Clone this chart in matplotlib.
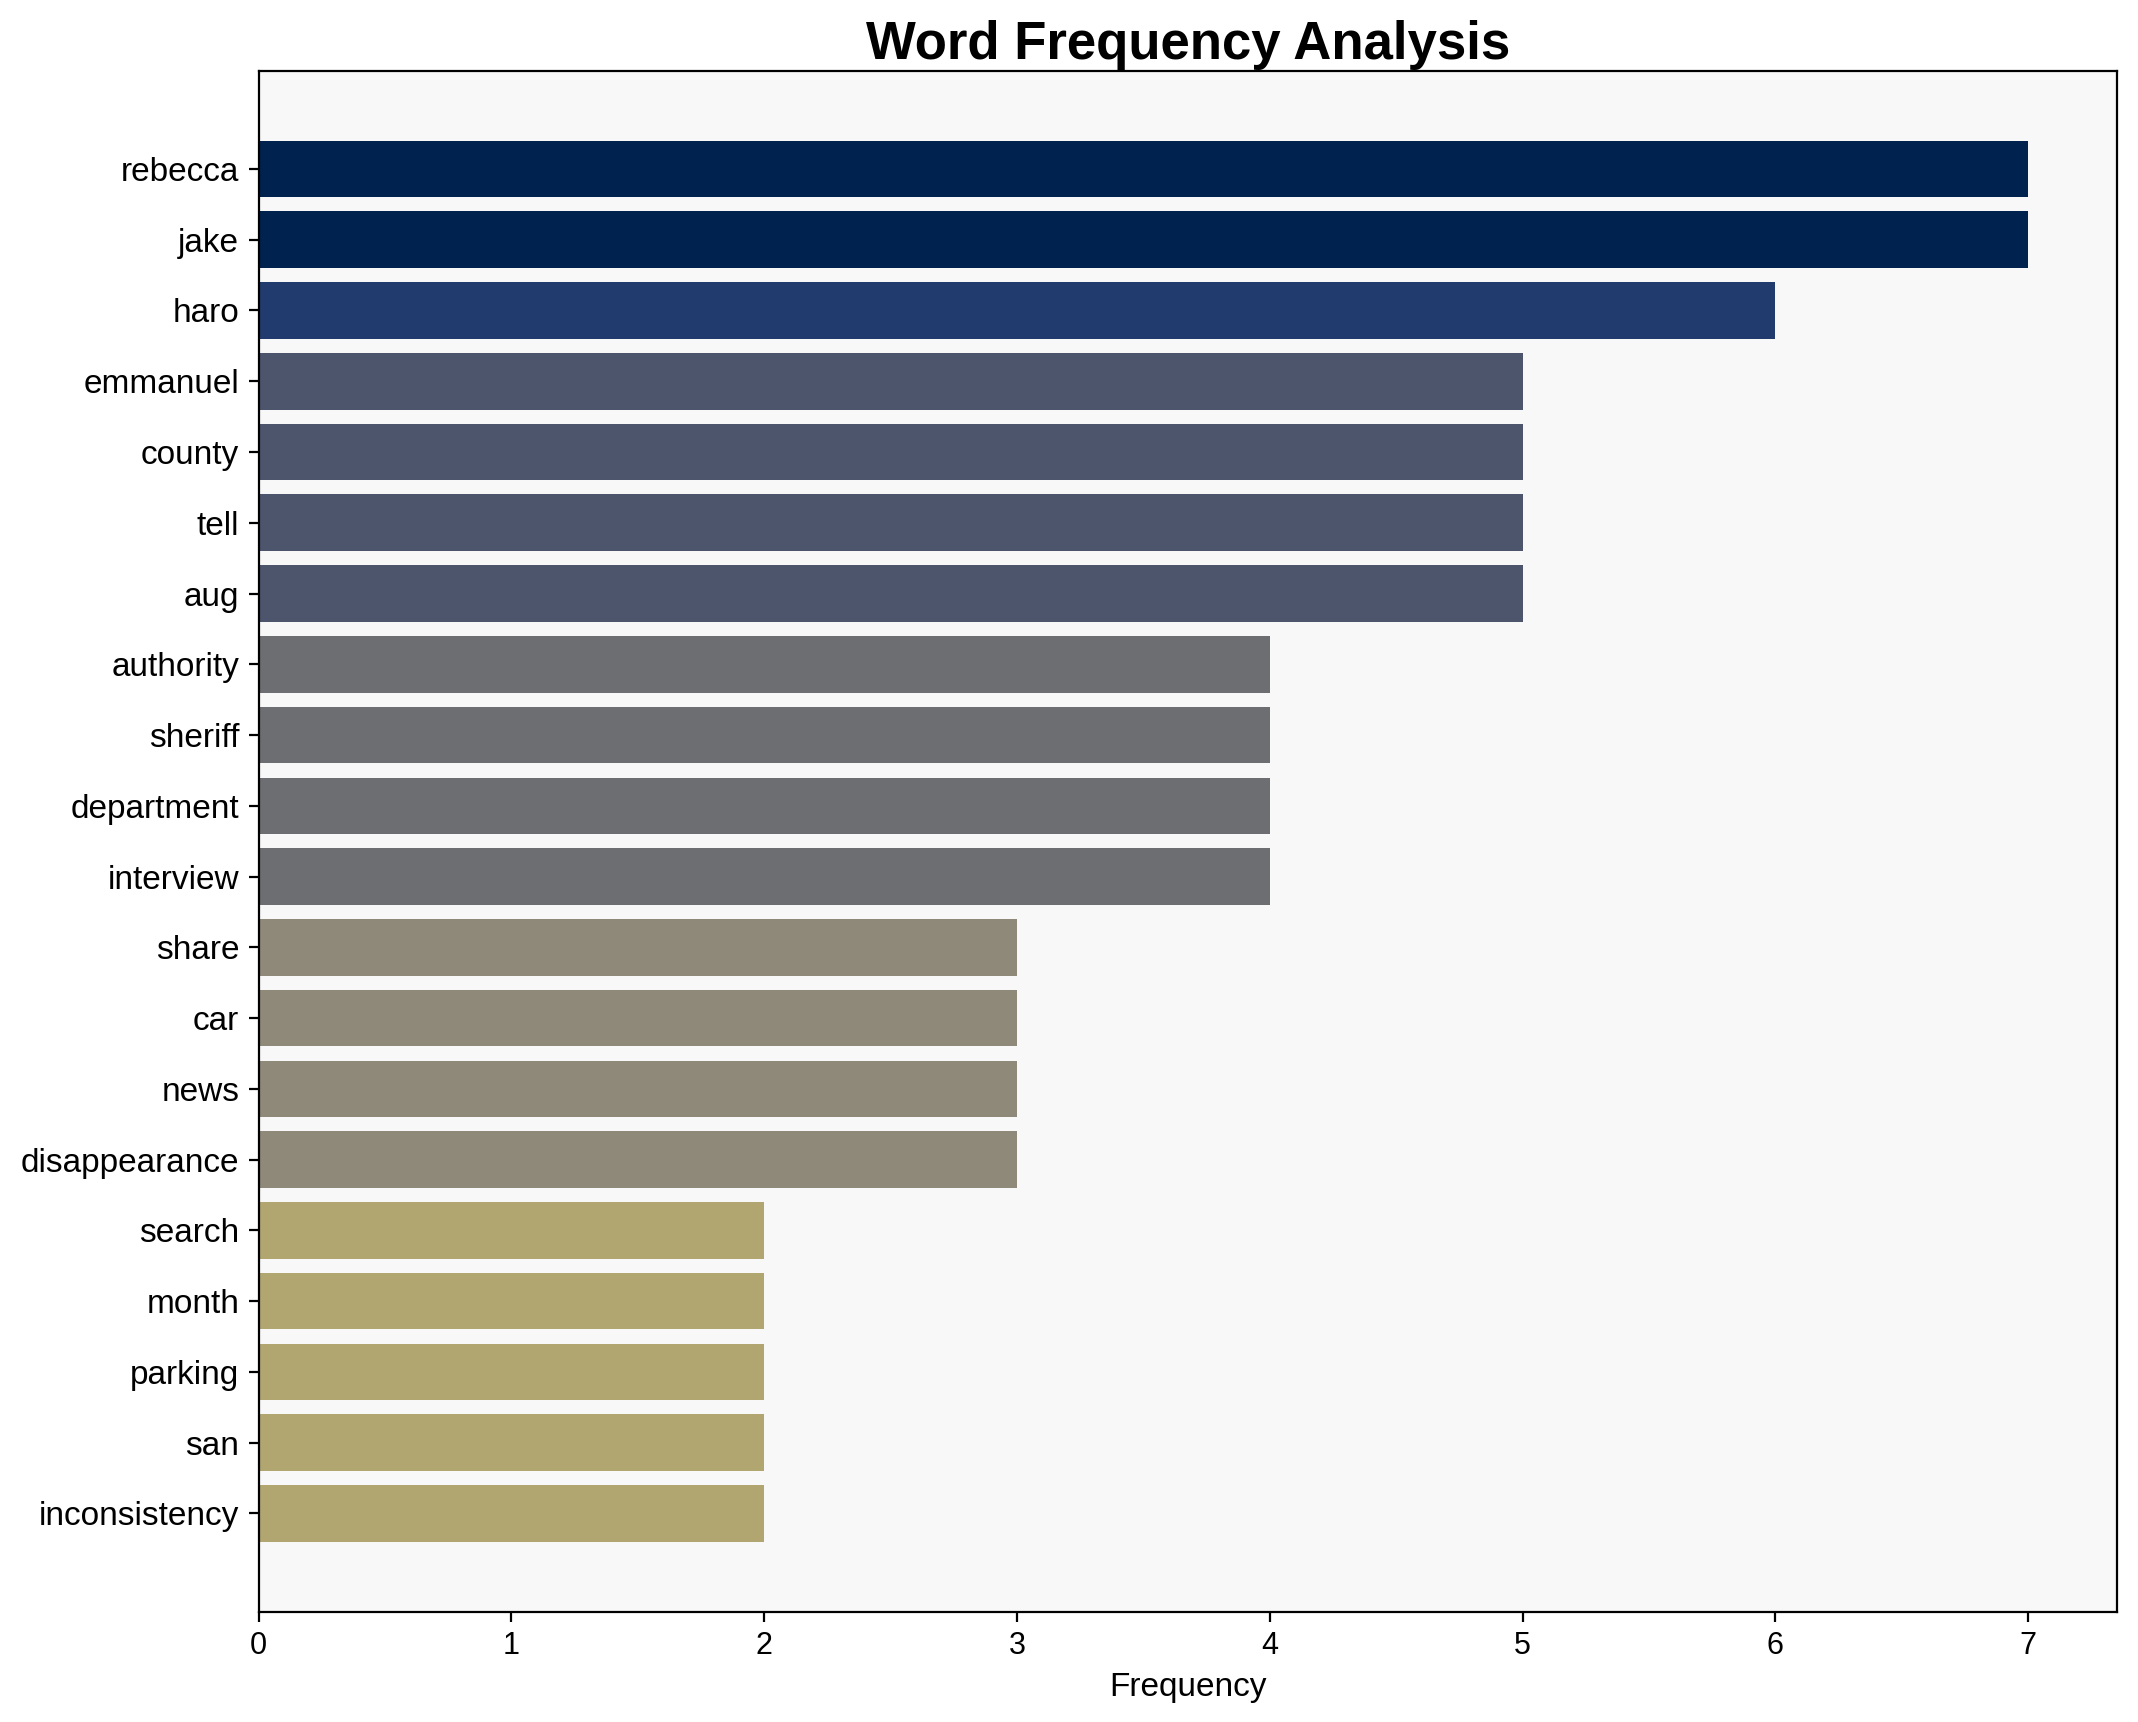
import matplotlib
matplotlib.use("Agg")
import matplotlib.pyplot as plt
import numpy as np

words = ["rebecca", "jake", "haro", "emmanuel", "county", "tell", "aug",
         "authority", "sheriff", "department", "interview", "share", "car",
         "news", "disappearance", "search", "month", "parking", "san",
         "inconsistency"]
freqs = [7, 7, 6, 5, 5, 5, 5, 4, 4, 4, 4, 3, 3, 3, 3, 2, 2, 2, 2, 2]

plt.rcParams['font.family'] = ['Liberation Sans', 'DejaVu Sans']

fig = plt.figure(figsize=(10.69, 8.61), dpi=200)
ax = fig.add_axes([0.121, 0.064, 0.869, 0.895])
ax.set_facecolor('#f8f8f8')

vals = np.array(freqs, dtype=float)
colors = plt.cm.cividis(1 - vals / vals.max())
y = np.arange(len(words))
ax.barh(y, vals, height=0.8, color=colors)
ax.set_yticks(y)
ax.set_yticklabels(words, fontsize=12)
ax.invert_yaxis()
ax.set_xlim(0, vals.max() * 1.05)
ax.tick_params(axis='x', labelsize=11)
ax.set_xlabel("Frequency", fontsize=12)
ax.set_title("Word Frequency Analysis", fontsize=19, fontweight='bold', pad=4)

fig.savefig("out.png", dpi=200)
